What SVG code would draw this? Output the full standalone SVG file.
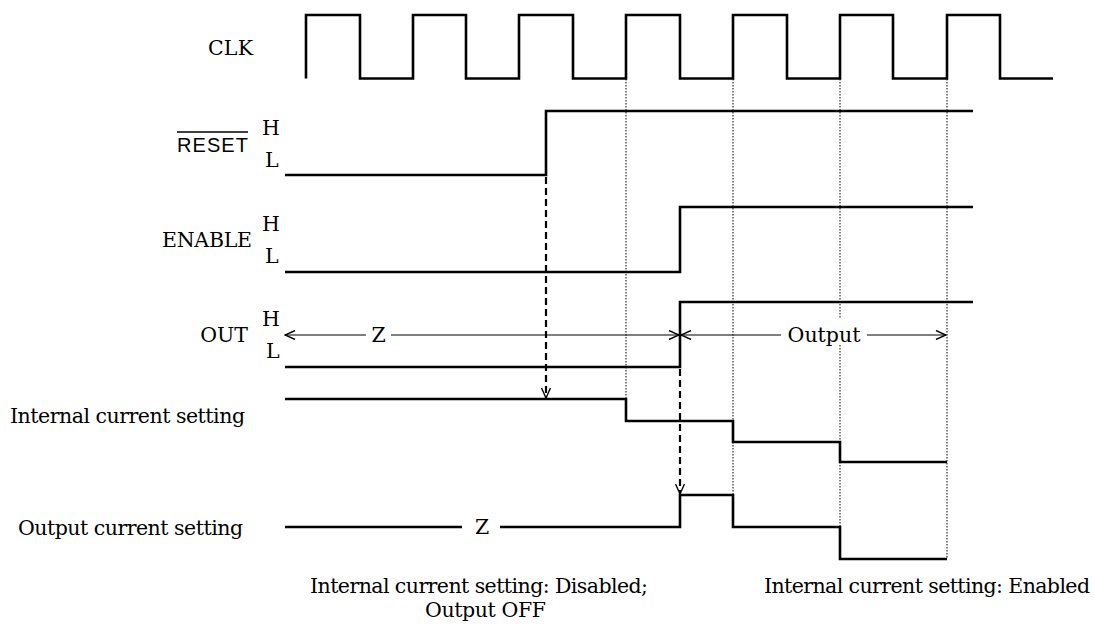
<svg xmlns="http://www.w3.org/2000/svg" width="1094" height="624" viewBox="0 0 1094 624">
<style>
.sig{fill:none;stroke:#000;stroke-width:2.6;stroke-linejoin:miter;stroke-linecap:butt}
.dot{fill:none;stroke:#000;stroke-width:1;stroke-dasharray:1.5 1.5}
.dash{fill:none;stroke:#000;stroke-width:2.2;stroke-dasharray:7 4}
.arr{fill:none;stroke:#000;stroke-width:1.2}
text{font-family:"DejaVu Serif","Liberation Serif",serif;font-size:20.5px;fill:#000}
.sans{font-family:"Liberation Sans",Arial,sans-serif;font-size:20px}
</style>
<defs>
<marker id="ah" viewBox="0 0 12 10" refX="11" refY="5" markerWidth="12" markerHeight="10" markerUnits="userSpaceOnUse" orient="auto-start-reverse">
<path d="M1,0.5 L11,5 L1,9.5" fill="none" stroke="#000" stroke-width="1.4" stroke-dasharray="none"/>
</marker>
</defs>
<rect width="1094" height="624" fill="#fff"/>

<g id="connectors">
<line class="dot" x1="626" y1="79" x2="626" y2="399"/>
<line class="dot" x1="733" y1="79" x2="733" y2="495"/>
<line class="dot" x1="840" y1="79" x2="840" y2="318"/>
<line class="dot" x1="840" y1="345" x2="840" y2="527"/>
<line class="dot" x1="947" y1="79" x2="947" y2="559"/>
<line class="dash" x1="546" y1="177" x2="546" y2="398" marker-end="url(#ah)"/>
<line class="dash" x1="680" y1="369" x2="680" y2="494" marker-end="url(#ah)"/>
<line class="arr" x1="366" y1="335" x2="285" y2="335" marker-end="url(#ah)"/>
<line class="arr" x1="391" y1="335" x2="679" y2="335" marker-end="url(#ah)"/>
<line class="arr" x1="781" y1="335" x2="681" y2="335" marker-end="url(#ah)"/>
<line class="arr" x1="867" y1="335" x2="946" y2="335" marker-end="url(#ah)"/>
</g>

<g id="clk">
<text x="208" y="55" textLength="45">CLK</text>
<path class="sig" d="M306,78.5 V15 H360 V78.5 H413 V15 H466 V78.5 H519 V15 H573 V78.5 H626 V15 H680 V78.5 H733 V15 H787 V78.5 H840 V15 H893 V78.5 H947 V15 H1000 V78.5 H1053"/>
</g>

<g id="reset">
<text class="sans" x="177" y="152" textLength="71">RESET</text>
<line x1="177" y1="132" x2="248" y2="132" stroke="#000" stroke-width="1.3"/>
<text x="262" y="135">H</text>
<text x="265" y="167">L</text>
<path class="sig" d="M285,175 H546 V111 H973"/>
</g>

<g id="enable">
<text x="162" y="247" textLength="90">ENABLE</text>
<text x="262" y="231">H</text>
<text x="265" y="263">L</text>
<path class="sig" d="M285,272 H680 V207 H973"/>
</g>

<g id="out">
<text x="248" y="342" text-anchor="end">OUT</text>
<text x="262" y="326">H</text>
<text x="266" y="358">L</text>
<path class="sig" d="M285,367 H680 V302 H973"/>
<text x="378.5" y="342" text-anchor="middle">Z</text>
<text x="824" y="342" text-anchor="middle">Output</text>
</g>

<g id="internal">
<text x="10" y="423" textLength="235">Internal current setting</text>
<path class="sig" d="M285,399 H626 V421 H733 V442 H840 V462 H947"/>
</g>

<g id="outputcurrent">
<text x="18" y="535" textLength="225">Output current setting</text>
<path class="sig" d="M285,527 H462"/>
<text x="482" y="534" text-anchor="middle">Z</text>
<path class="sig" d="M500,527 H680 V495 H733 V527 H840 V559 H947"/>
</g>

<g id="notes">
<text x="310" y="593" textLength="338">Internal current setting: Disabled;</text>
<text x="425" y="617" textLength="121">Output OFF</text>
<text x="764" y="593" textLength="326">Internal current setting: Enabled</text>
</g>
</svg>
